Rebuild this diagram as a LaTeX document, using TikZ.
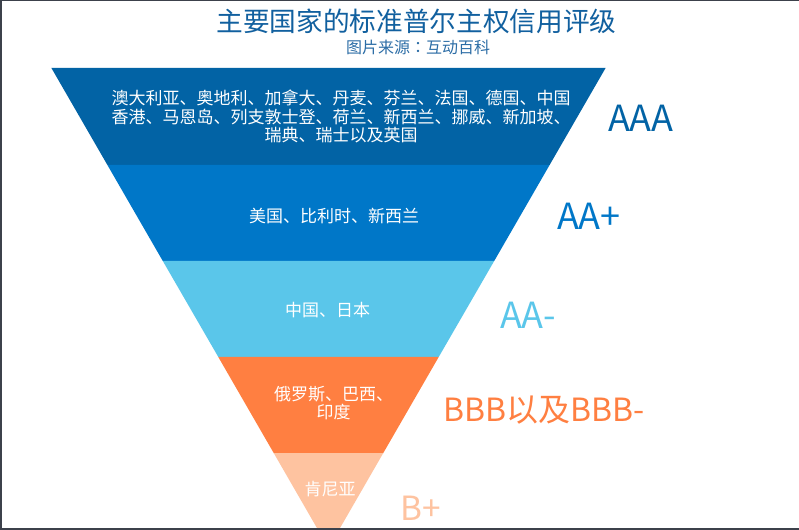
\documentclass[tikz,border=0pt]{standalone}
\usepackage{fontspec}
\setmainfont{Noto Sans CJK SC}
\newfontfamily\tcfont{Noto Sans CJK TC}
\definecolor{frame}{HTML}{3C414B}
\definecolor{titleblue}{HTML}{11609F}
\definecolor{subblue}{HTML}{2C6DA6}
\definecolor{bandA}{HTML}{0263A5}
\definecolor{bandB}{HTML}{0077C8}
\definecolor{bandC}{HTML}{5AC6EA}
\definecolor{bandD}{HTML}{FF7F41}
\definecolor{bandE}{HTML}{FEC3A0}
\tikzset{
  bandtext/.style={text=white, inner sep=0pt, align=center, font=\fontsize{12.75}{14}\selectfont},
  ratelabel/.style={anchor=west, inner sep=0pt, font=\fontsize{27}{32}\selectfont},
}
\begin{document}
\begin{tikzpicture}[x=0.75pt,y=-0.75pt]
\useasboundingbox (0,0) rectangle (799,530);
\fill[white] (0,0) rectangle (799,530);
\begin{scope}
\clip (0,0) rectangle (799,530);
% bands of the inverted triangle (centre x = 328.5, apex at y = 548)
\fill[bandA] (51.4,68) -- (605.6,68) -- (549.6,165) -- (107.4,165) -- cycle;
\fill[bandB] (107.4,165) -- (549.6,165) -- (494.2,261) -- (162.8,261) -- cycle;
\fill[bandC] (162.8,261) -- (494.2,261) -- (438.7,357) -- (218.3,357) -- cycle;
\fill[bandD] (218.3,357) -- (438.7,357) -- (383.3,453) -- (273.7,453) -- cycle;
\fill[bandE] (273.7,453) -- (383.3,453) -- (328.5,548) -- cycle;
\end{scope}
% frame
\fill[frame] (0,0) rectangle (2,530);
\fill[frame] (0,0) rectangle (799,1);
\fill[frame] (0,528) rectangle (799,530);
% titles
\node[inner sep=0pt, text=titleblue, font=\fontsize{20}{24}\selectfont] (title) at (416.5,21.5) {主要国家的标准普尔主权信用评级};
\node[inner sep=0pt, text=subblue, font=\fontsize{12}{14}\selectfont] (subtitle) at (418,47.5) {图片来源{\tcfont ：}互动百科};
% band texts
\node[bandtext] (t1) at (341,116.5) {澳大利亚、奥地利、加拿大、丹麦、芬兰、法国、德国、中国\\香港、马恩岛、列支敦士登、荷兰、新西兰、挪威、新加坡、\\瑞典、瑞士以及英国};
\node[bandtext] (t2) at (334,216) {美国、比利时、新西兰};
\node[bandtext] (t3) at (327.5,310) {中国、日本};
\node[bandtext] (t4) at (333.5,403) {俄罗斯、巴西、\\印度};
\node[bandtext] (t5) at (330,489.5) {肯尼亚};
% rating labels
\node[ratelabel, text=bandA] (l1) at (608,118.5) {AAA};
\node[ratelabel, text=bandB] (l2) at (557,216) {AA+};
\node[ratelabel, text=bandC] (l3) at (500,315) {AA-};
\node[ratelabel, text=bandD, font=\fontsize{24}{28}\selectfont] (l4) at (443,410) {BBB以及BBB-};
\node[ratelabel, text=bandE, font=\fontsize{25}{30}\selectfont] (l5) at (400,508.5) {B+};
\end{tikzpicture}
\end{document}
